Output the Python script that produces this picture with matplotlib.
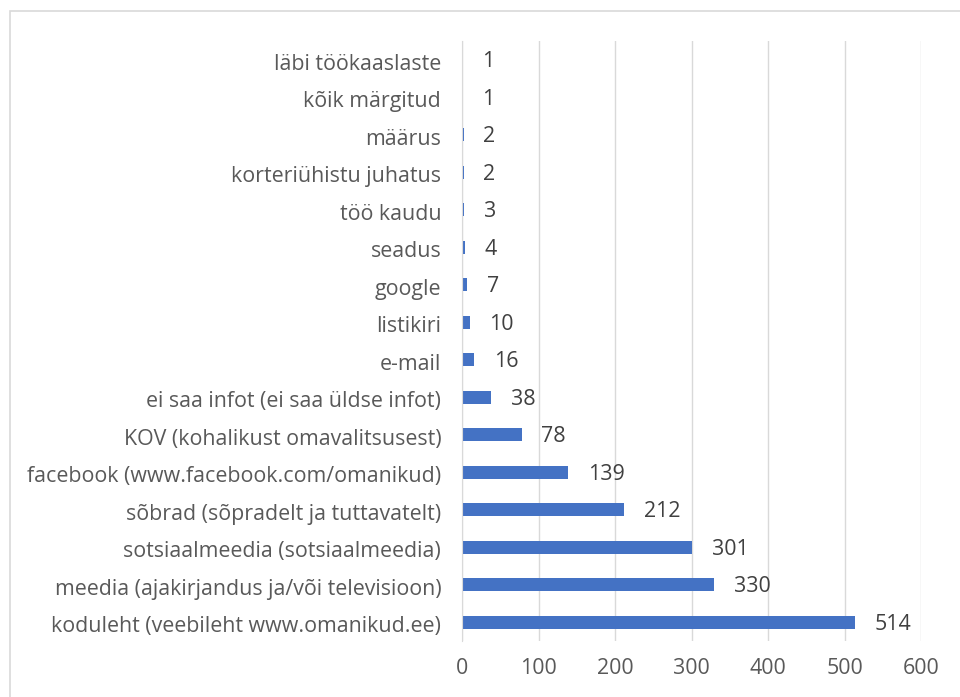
import matplotlib.pyplot as plt
import matplotlib.transforms as mtransforms
from matplotlib.patches import Rectangle

categories = [
    "läbi töökaaslaste",
    "kõik märgitud",
    "määrus",
    "korteriühistu juhatus",
    "töö kaudu",
    "seadus",
    "google",
    "listikiri",
    "e-mail",
    "ei saa infot (ei saa üldse infot)",
    "KOV (kohalikust omavalitsusest)",
    "facebook (www.facebook.com/omanikud)",
    "sõbrad (sõpradelt ja tuttavatelt)",
    "sotsiaalmeedia (sotsiaalmeedia)",
    "meedia (ajakirjandus ja/või televisioon)",
    "koduleht (veebileht www.omanikud.ee)",
]
values = [1, 1, 2, 2, 3, 4, 7, 10, 16, 38, 78, 139, 212, 301, 330, 514]
xticks = [0, 100, 200, 300, 400, 500, 600]

plt.rcParams['font.family'] = ['Open Sans', 'DejaVu Sans']
text_color = "#595959"
fs = 15.4

fig = plt.figure(figsize=(9.6, 6.97), dpi=100)
W, H = 960, 697
ax = fig.add_axes([462 / W, 1 - 641 / H, (921 - 462) / W, (641 - 41) / H])

# chart border (only left and top edges visible in the reference)
fig.patches.append(Rectangle((10 / W, -0.1), 1.2, 1 - 11 / H + 0.1,
                             transform=fig.transFigure, fill=False,
                             edgecolor="#D9D9D9", linewidth=1.2))

y = list(range(len(categories)))
ax.barh(y, values, height=0.35, color="#4472C4")
ax.set_ylim(len(categories) - 0.5, -0.5)
ax.set_xlim(0, 600)
ax.set_xticks(xticks)
ax.set_yticks(y)
ax.set_yticklabels(categories)
ax.tick_params(length=0, labelsize=fs, colors=text_color)
ax.tick_params(axis="y", pad=15)
ax.tick_params(axis="x", pad=12)
ax.grid(axis="x", color="#D9D9D9", linewidth=1)
ax.set_axisbelow(True)
for s in ["top", "right", "bottom"]:
    ax.spines[s].set_visible(False)
ax.spines["left"].set_color("#D9D9D9")

# nudge category labels down a little
shift = mtransforms.ScaledTranslation(0, -2 / 100, fig.dpi_scale_trans)
for lbl in ax.get_yticklabels():
    lbl.set_transform(lbl.get_transform() + shift)

for yi, v in zip(y, values):
    ax.annotate(str(v), (v, yi), xytext=(14, -1.5), textcoords="offset points",
                va="center", ha="left", fontsize=fs, color="#404040")

fig.savefig("out.png", dpi=100)
